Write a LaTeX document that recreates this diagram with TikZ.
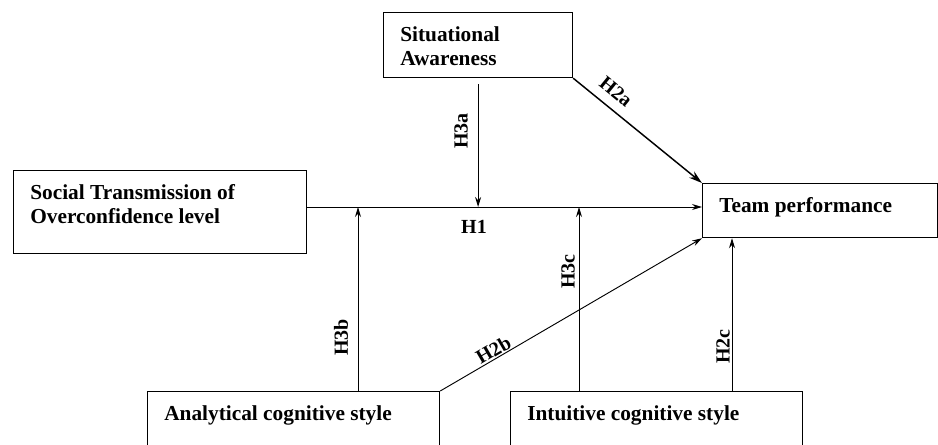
\documentclass[tikz,border=0pt]{standalone}
\usepackage{fontspec}
\setmainfont{Liberation Serif}
\usetikzlibrary{arrows.meta}
\begin{document}
\begin{tikzpicture}[x=0.75pt, y=-0.75pt,
  every node/.style={font=\fontsize{16}{18}\selectfont\bfseries},
  box/.style={draw, line width=0.9pt, anchor=north west, inner sep=0pt},
  boxtext/.style={anchor=north west, align=left, inner sep=0pt, xshift=12.75pt, yshift=-10.5pt},
  arr/.style={-{Stealth[length=7.5pt,width=4.5pt]}, line width=0.7pt},
  hyp/.style={font=\fontsize{15}{18}\selectfont\bfseries, inner sep=1pt}]
  \useasboundingbox (0,0) rectangle (938,444);
  % variables
  \node[box, minimum width=219.75pt, minimum height=62.25pt,
    label={[boxtext]north west:Social Transmission of\\Overconfidence level}] (sto) at (13,170) {};
  \node[box, minimum width=141.75pt, minimum height=48.75pt,
    label={[boxtext]north west:Situational\\Awareness}] (sa) at (383,12) {};
  \node[box, minimum width=176.25pt, minimum height=40.5pt,
    label={[boxtext]north west:Team performance}] (tp) at (702,183) {};
  \node[box, minimum width=219pt, minimum height=52pt,
    label={[boxtext]north west:Analytical cognitive style}] (acs) at (147,391) {};
  \node[box, minimum width=219pt, minimum height=52pt,
    label={[boxtext]north west:Intuitive cognitive style}] (ics) at (510,391) {};
  \coordinate (h1s) at (306,207);
  \coordinate (xb) at (358,0); \coordinate (xc) at (579,0); \coordinate (xd) at (732,0);
  % hypotheses
  \draw[arr] (h1s) -- (h1s -| tp.west);
  \node[hyp] at (474,227) {H1};
  \draw[arr] ([yshift=-4.5pt]sa.south) -- (h1s -| sa.south)
    node[hyp, pos=0.38, rotate=90, yshift=12.75pt] {H3a};
  \draw[arr] (acs.north -| xb) -- (h1s -| xb)
    node[hyp, pos=0.29, rotate=90, yshift=12.75pt] {H3b};
  \draw[arr] (ics.north -| xc) -- (h1s -| xc)
    node[hyp, pos=0.65, rotate=90, yshift=8.25pt] {H3c};
  \draw[arr] (ics.north -| xd) -- (tp.south -| xd)
    node[hyp, pos=0.29, rotate=90, yshift=6.75pt] {H2c};
  \draw[-{Stealth[length=10pt,width=6pt]}, line width=1.1pt] (sa.south east) -- (tp.north west)
    node[hyp, pos=0.25, sloped, above=6pt] {H2a};
  \draw[arr] (acs.north east) -- (tp.south west)
    node[hyp, pos=0.22, sloped, above=0pt] {H2b};
\end{tikzpicture}
\end{document}
